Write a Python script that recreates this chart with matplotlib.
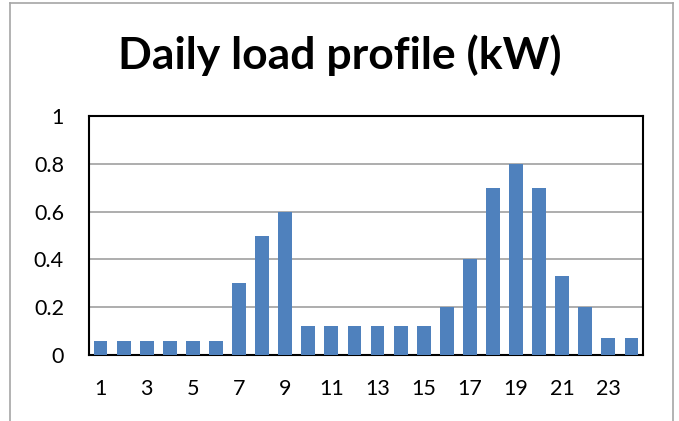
import numpy as np
import matplotlib.pyplot as plt
from matplotlib.lines import Line2D

# hours of the day and load (kW)
hours = list(range(1, 25))
load = [0.06, 0.06, 0.06, 0.06, 0.06, 0.06, 0.3, 0.5, 0.6,
        0.12, 0.12, 0.12, 0.12, 0.12, 0.12, 0.2, 0.4, 0.7,
        0.8, 0.7, 0.33, 0.2, 0.07, 0.07]
xtick_labels = [1, 3, 5, 7, 9, 11, 13, 15, 17, 19, 21, 23]
yticks = [0, 0.2, 0.4, 0.6, 0.8, 1]

plt.rcParams['font.family'] = ['Lato', 'DejaVu Sans']

fig = plt.figure(figsize=(6.79, 4.21), dpi=100)
ax = fig.add_axes([89 / 679, 1 - 355 / 421, (643 - 89) / 679, (355 - 116) / 421])

ax.bar(hours, load, width=0.6, color='#4F81BD', zorder=3)
ax.set_xlim(0.5, 24.5)
ax.set_ylim(0, 1)
ax.set_yticks(yticks)
ax.set_yticklabels(['0', '0.2', '0.4', '0.6', '0.8', '1'])
ax.set_xticks(xtick_labels)
ax.tick_params(length=0, labelsize=15.5, pad=17)
ax.tick_params(axis='y', pad=18)
ax.grid(axis='y', color='#a0a0a0', linewidth=1.2, zorder=0)
for s in ax.spines.values():
    s.set_linewidth(1.5)
    s.set_color('black')

fig.text(0.5, 1 - 55 / 421, 'Daily load profile (kW)', ha='center', va='center',
         fontsize=32, fontweight='bold')

# outer chart border (cropped at the bottom)
x0, x1, y0 = 10 / 679, 673 / 679, 1 - 3 / 421
for xs, ys in [([x0, x0], [0, y0]), ([x0, x1], [y0, y0]), ([x1, x1], [y0, 0])]:
    fig.add_artist(Line2D(xs, ys, color='#a6a6a6', linewidth=1.2, transform=fig.transFigure))

fig.savefig('out.png', dpi=100)
